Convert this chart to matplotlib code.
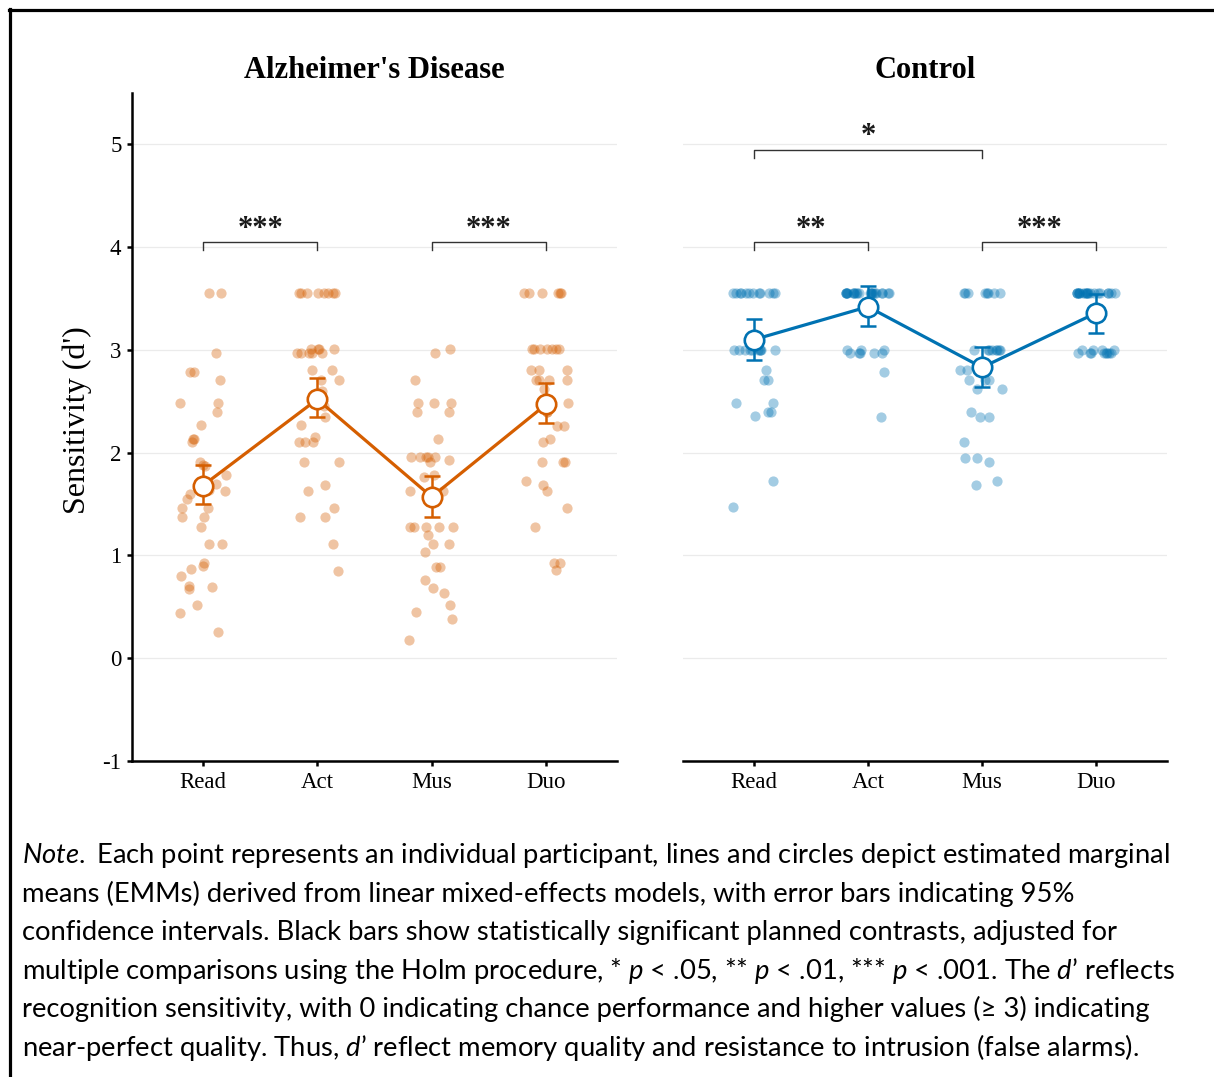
import numpy as np
import matplotlib
matplotlib.use('Agg')
import matplotlib.pyplot as plt
from matplotlib.lines import Line2D

plt.rcParams['font.family'] = 'serif'
plt.rcParams['font.serif'] = ['Liberation Serif', 'DejaVu Serif']
plt.rcParams['axes.unicode_minus'] = False
plt.rcParams['mathtext.fontset'] = 'custom'
plt.rcParams['mathtext.rm'] = 'Lato'
plt.rcParams['mathtext.it'] = 'Lato:italic'
plt.rcParams['mathtext.bf'] = 'Lato:bold'

conditions = ['Read', 'Act', 'Mus', 'Duo']
panel_titles = ["Alzheimer's Disease", 'Control']
yticks = [-1, 0, 1, 2, 3, 4, 5]

# individual participants, d' per condition
ad_read = [3.55, 3.55, 2.97, 2.79, 2.79, 2.71, 2.48, 2.48, 2.40, 2.27, 2.13, 2.13,
           2.10, 1.91, 1.88, 1.87, 1.78, 1.70, 1.64, 1.63, 1.60, 1.55, 1.46, 1.46,
           1.37, 1.37, 1.28, 1.11, 1.11, 0.93, 0.90, 0.87, 0.80, 0.70, 0.69, 0.67,
           0.52, 0.44, 0.26]
ad_act = [3.55, 3.55, 3.55, 3.55, 3.55, 3.55, 3.55, 3.55, 3.01, 3.01, 3.01, 3.01,
          2.97, 2.97, 2.97, 2.97, 2.97, 2.80, 2.80, 2.71, 2.71, 2.60, 2.45, 2.35,
          2.27, 2.15, 2.10, 2.10, 2.10, 1.91, 1.91, 1.69, 1.63, 1.46, 1.37, 1.37,
          1.11, 0.85]
ad_mus = [3.01, 2.97, 2.71, 2.48, 2.48, 2.48, 2.40, 2.40, 2.13, 1.96, 1.96, 1.96,
          1.96, 1.96, 1.93, 1.91, 1.78, 1.76, 1.63, 1.63, 1.28, 1.28, 1.28, 1.28,
          1.28, 1.20, 1.11, 1.11, 1.03, 0.89, 0.89, 0.76, 0.68, 0.63, 0.52, 0.45,
          0.38, 0.18]
ad_duo = [3.55, 3.55, 3.55, 3.55, 3.55, 3.55, 3.01, 3.01, 3.01, 3.01, 3.01, 3.01,
          3.01, 2.80, 2.80, 2.80, 2.71, 2.71, 2.71, 2.71, 2.62, 2.48, 2.40, 2.40,
          2.26, 2.26, 2.13, 2.10, 1.91, 1.91, 1.91, 1.72, 1.69, 1.63, 1.46, 1.28,
          0.93, 0.93, 0.86]

ctl_read = [3.55] * 12 + [3.00] * 10 + [2.80, 2.71, 2.71, 2.48, 2.48, 2.40, 2.40,
                                        2.36, 1.72, 1.47]
ctl_act = [3.55] * 22 + [3.00, 3.00, 3.00, 2.97, 2.97, 2.97, 2.97, 2.97, 2.79, 2.35]
ctl_mus = [3.55] * 8 + [3.00] * 8 + [2.80, 2.80, 2.71, 2.71, 2.71, 2.62, 2.62, 2.40,
                                     2.35, 2.35, 2.10, 1.95, 1.95, 1.91, 1.72, 1.69]
ctl_duo = [3.55] * 20 + [3.00] * 4 + [2.97] * 8

# estimated marginal means and 95% CI
ad_emm = [1.68, 2.52, 1.57, 2.47]
ad_lo = [1.50, 2.35, 1.37, 2.29]
ad_hi = [1.88, 2.73, 1.77, 2.68]
ctl_emm = [3.10, 3.42, 2.83, 3.36]
ctl_lo = [2.90, 3.23, 2.64, 3.16]
ctl_hi = [3.30, 3.62, 3.03, 3.54]

# planned contrasts: (from, to, bracket height, label)
ad_contrasts = [('Read', 'Act', 4.05, '***'), ('Mus', 'Duo', 4.05, '***')]
ctl_contrasts = [('Read', 'Act', 4.05, '**'), ('Mus', 'Duo', 4.05, '***'),
                 ('Read', 'Mus', 4.95, '*')]

note_lines = [
    r"$\mathit{Note.}$Each point represents an individual participant, lines and circles depict estimated marginal",
    "means (EMMs) derived from linear mixed-effects models, with error bars indicating 95%",
    "confidence intervals. Black bars show statistically significant planned contrasts, adjusted for",
    r"multiple comparisons using the Holm procedure, * $p$ < .05, ** $p$ < .01, *** $p$ < .001. The $d$’ reflects",
    "recognition sensitivity, with 0 indicating chance performance and higher values (≥ 3) indicating",
    r"near-perfect quality. Thus, $d$’ reflect memory quality and resistance to intrusion (false alarms).",
]

ORANGE = '#D55E00'
BLUE = '#0072B2'
W, H = 1214, 1077

rng = np.random.default_rng(7)


def draw_panel(ax, groups, emm, lo, hi, colour, contrasts, title, show_y):
    pos = np.arange(1, len(conditions) + 1)
    for i, vals in enumerate(groups):
        vals = np.asarray(vals)
        xj = pos[i] + rng.uniform(-0.2, 0.2, len(vals))
        ax.scatter(xj, vals, s=54, color=colour, alpha=0.36, lw=0, zorder=2)

    emm = np.asarray(emm)
    err = [emm - np.asarray(lo), np.asarray(hi) - emm]
    ax.plot(pos, emm, color=colour, lw=2.3, zorder=3)
    ax.errorbar(pos, emm, yerr=err, fmt='none', ecolor=colour, elinewidth=1.8,
                capsize=6, capthick=1.8, zorder=4)
    ax.plot(pos, emm, 'o', ms=14, mfc='white', mec=colour, mew=1.9, zorder=5)

    for a, b, h, lab in contrasts:
        xa = conditions.index(a) + 1
        xb = conditions.index(b) + 1
        ax.plot([xa, xa, xb, xb], [h - 0.08, h, h, h - 0.08], color='#333333',
                lw=1.0, zorder=3)
        ax.text((xa + xb) / 2, h + 0.05, lab, ha='center', va='baseline',
                fontsize=22, fontweight='bold', color='#1a1a1a')

    ax.set_xlim(0.38, 4.62)
    ax.set_ylim(-1, 5.5)
    ax.set_xticks(pos, conditions)
    ax.set_yticks(yticks)
    ax.grid(axis='y', color='#EBEBEB', lw=0.9)
    ax.set_axisbelow(True)
    for s in ['top', 'right']:
        ax.spines[s].set_visible(False)
    ax.spines['bottom'].set_linewidth(1.8)
    ax.spines['left'].set_linewidth(1.8)
    ax.tick_params(axis='both', length=3.6, width=1.8, labelsize=16.5, pad=4)
    if not show_y:
        ax.spines['left'].set_visible(False)
        ax.tick_params(axis='y', left=False, labelleft=False)
    ax.set_title(title, fontsize=22, fontweight='bold', pad=11)


fig = plt.figure(figsize=(W / 100, H / 100), dpi=100)
ax1 = fig.add_axes([132 / W, 1 - 761 / H, 485 / W, 668 / H])
ax2 = fig.add_axes([683 / W, 1 - 761 / H, 484 / W, 668 / H])

draw_panel(ax1, [ad_read, ad_act, ad_mus, ad_duo], ad_emm, ad_lo, ad_hi, ORANGE,
           ad_contrasts, panel_titles[0], True)
draw_panel(ax2, [ctl_read, ctl_act, ctl_mus, ctl_duo], ctl_emm, ctl_lo, ctl_hi, BLUE,
           ctl_contrasts, panel_titles[1], False)

ax1.set_ylabel("Sensitivity (d')", fontsize=23)
ax1.yaxis.set_label_coords(-0.082, 0.51)

# outer frame (left and top edges)
fig.add_artist(Line2D([10 / W, 10 / W], [1 - 9 / H, 0], transform=fig.transFigure,
                      color='black', lw=2.3))
fig.add_artist(Line2D([9 / W, 1], [1 - 10 / H, 1 - 10 / H], transform=fig.transFigure,
                      color='black', lw=2.3))

# caption, scaled so the first line spans the same width as the original
note_lines[0] = note_lines[0].replace('$Each', '$ Each')
note_size = 16
texts = []
for i, line in enumerate(note_lines):
    t = fig.text(22 / W, 1 - (863 + i * 38.6) / H, line, fontsize=note_size,
                 family=['Lato', 'DejaVu Sans'], va='baseline', ha='left')
    texts.append(t)
fig.canvas.draw()
w0 = texts[0].get_window_extent().width
for t in texts:
    t.set_fontsize(note_size * 1148 / w0)

fig.savefig('out.png', dpi=100)
